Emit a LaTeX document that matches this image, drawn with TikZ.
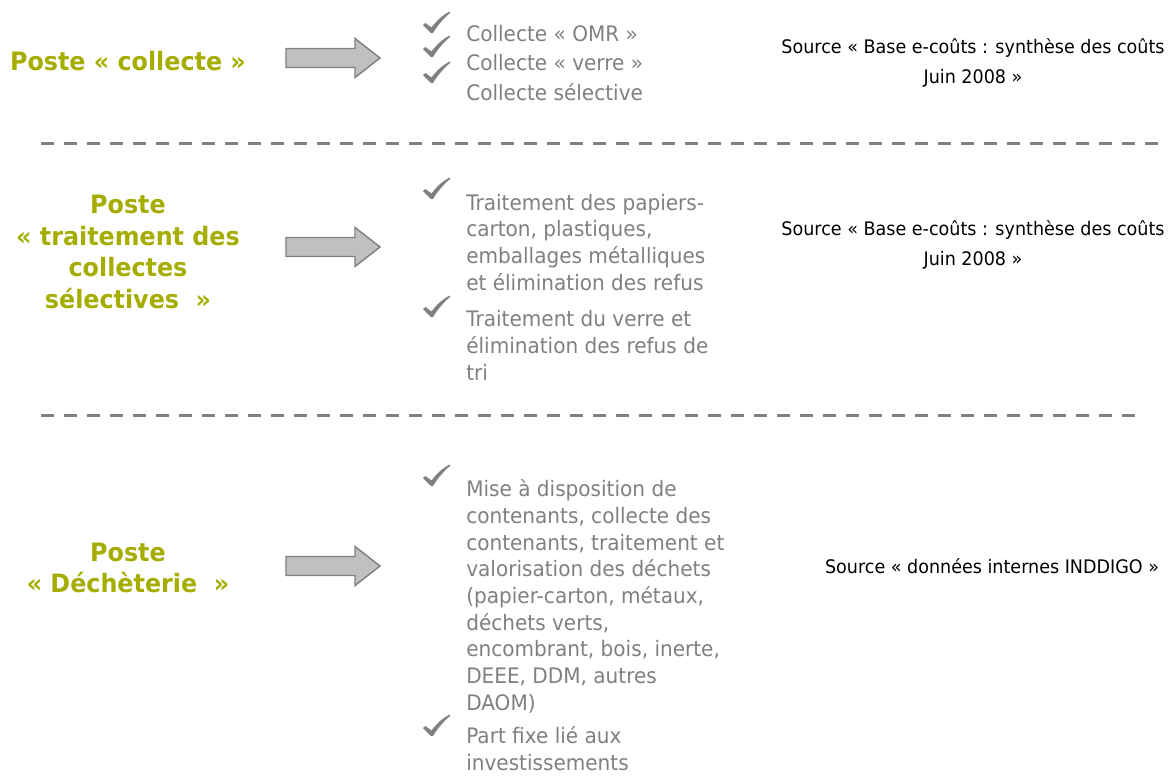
\documentclass[tikz,border=0pt]{standalone}
\usepackage{fontspec}
\setmainfont{DejaVu Sans}[FakeStretch=0.94]
\usepackage{xcolor}
\usetikzlibrary{positioning, calc}
\definecolor{postegreen}{RGB}{165, 174, 0}
\definecolor{listgray}{RGB}{128, 128, 128}
\definecolor{arrowgray}{RGB}{192, 192, 192}
\tikzset{
  poste/.style={text=postegreen, font=\fontsize{19}{23.6}\selectfont\bfseries, align=center, inner sep=0pt},
  item/.style={text=listgray, font=\fontsize{16}{20}\selectfont, align=left, anchor=base west, inner sep=0pt},
  source/.style={font=\fontsize{14}{22.5}\selectfont, align=center, inner sep=0pt},
  sep/.style={listgray, line width=2.25pt, dash pattern=on 9.75pt off 7.5pt},
  fleche/.style={draw=listgray, fill=arrowgray, line width=1.1pt}
}
% coche grise (x, y du centre)
\newcommand{\coche}[2]{\fill[listgray, shift={(#1,#2)}] (-13,2) -- (-10.5,0) -- (-4.5,4.5)
  .. controls (1,-3) and (7,-8) .. (13.5,-11.5) -- (14.5,-10.5)
  .. controls (8,-5) and (1,3) .. (-3,10) -- (-5,10) -- cycle;}
\begin{document}
\begin{tikzpicture}[x=0.75pt, y=-0.75pt]
  \useasboundingbox (0,0) rectangle (1168,776);

  % Poste collecte
  \node[poste] (p1) at (128,61) {Poste « collecte »};
  \filldraw[fleche] (286,48.5) -- ++(69,0) -- ++(0,-10) -- ++(25,19.5) -- ++(-25,19.5) -- ++(0,-10) -- ++(-69,0) -- cycle;
  \coche{436}{23}
  \coche{436}{47}
  \coche{436}{73}
  \node[item] (omr) at (466,41) {Collecte « OMR »};
  \node[item] (verre) at (466,70) {Collecte « verre »};
  \node[item] (selec) at (466,100) {Collecte sélective};
  \node[source] (s1) at (973,63) {Source « Base e-coûts : synthèse des coûts\\Juin 2008 »};

  \draw[sep] (40.5,143.5) -- (1168,143.5);

  % Poste traitement
  \node[poste] (p2) at (128,252) {Poste\\« traitement des\\collectes\\sélectives\ \ »};
  \filldraw[fleche] (286,237.5) -- ++(69,0) -- ++(0,-10) -- ++(25,19.5) -- ++(-25,19.5) -- ++(0,-10) -- ++(-69,0) -- cycle;
  \coche{436}{189}
  \coche{436}{307}
  % base = derniere ligne
  \node[item] (papiers) at (466,290) {Traitement des papiers-\\carton, plastiques,\\emballages métalliques\\et élimination des refus};
  \node[item] (tri) at (466,380) {Traitement du verre et\\élimination des refus de\\tri};
  \node[source] (s2) at (973,245) {Source « Base e-coûts : synthèse des coûts\\Juin 2008 »};

  \draw[sep] (40.5,415) -- (1143,415);

  % Poste decheterie
  \node[poste] (p3) at (128,568) {Poste\\« Déchèterie\ \ »};
  \filldraw[fleche] (286,556.5) -- ++(69,0) -- ++(0,-10) -- ++(25,19.5) -- ++(-25,19.5) -- ++(0,-10) -- ++(-69,0) -- cycle;
  \coche{436}{476}
  \coche{436}{726}
  \node[item] (mise) at (466,710) {Mise à disposition de\\contenants, collecte des\\contenants, traitement et\\valorisation des déchets\\(papier-carton, métaux,\\déchets verts,\\encombrant, bois, inerte,\\DEEE, DDM, autres\\DAOM)};
  \node[item] (fixe) at (466,770) {Part fixe lié aux\\investissements};
  \node[source] (s3) at (992,566) {Source « données internes INDDIGO »};
\end{tikzpicture}
\end{document}
